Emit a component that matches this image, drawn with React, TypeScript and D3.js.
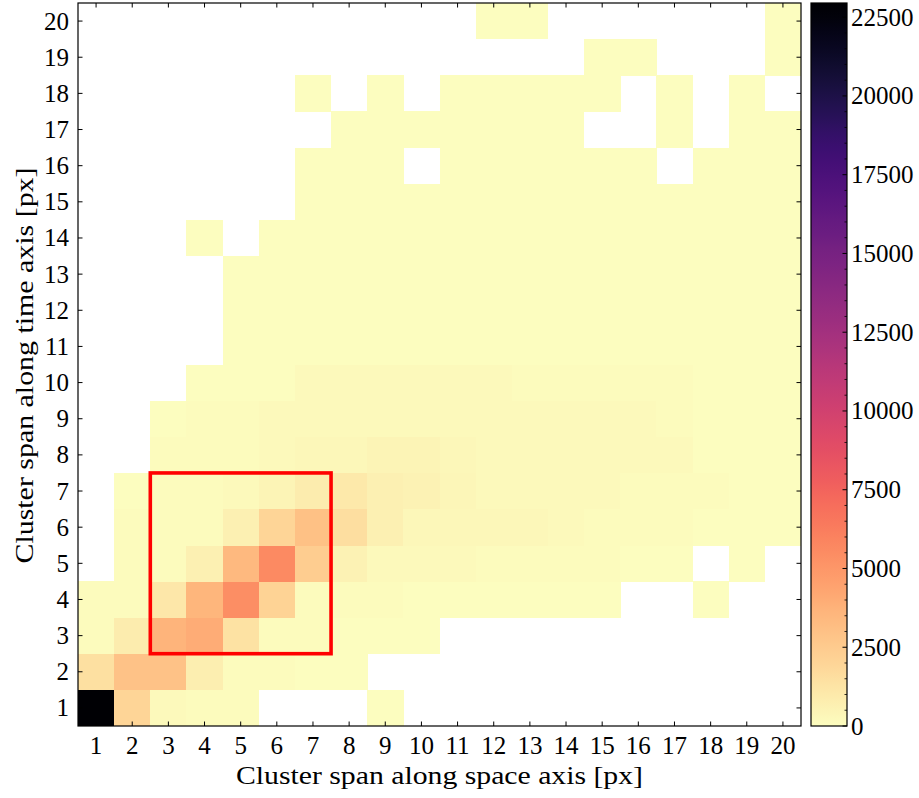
import React from "react";
import * as d3 from "d3";

// Rows: time span 1..20 (bottom to top); columns: space span 1..20
const spaceLabels = d3.range(1, 21);
const timeLabels = d3.range(1, 21);
const colorbarTicks = [0, 2500, 5000, 7500, 10000, 12500, 15000, 17500, 20000, 22500];
const vmax = 22950;

const row1 = [22950, 2000, 200, 100, 100, 0, 0, 0, 30, 0, 0, 0, 0, 0, 0, 0, 0, 0, 0, 0];
const row2 = [1500, 2900, 2900, 800, 120, 100, 80, 60, 0, 0, 0, 0, 0, 0, 0, 0, 0, 0, 0, 0];
const row3 = [120, 850, 3600, 4000, 1350, 120, 100, 80, 60, 40, 0, 0, 0, 0, 0, 0, 0, 0, 0, 0];
const row4 = [100, 120, 1100, 3500, 5400, 2100, 150, 100, 90, 80, 70, 60, 50, 40, 30, 0, 0, 20, 0, 0];
const row5 = [0, 130, 150, 700, 3400, 5600, 2400, 600, 200, 200, 180, 120, 110, 100, 90, 70, 50, 0, 20, 0];
const row6 = [0, 100, 120, 130, 700, 2050, 3000, 1600, 650, 350, 300, 300, 300, 250, 150, 120, 100, 80, 60, 40];
const row7 = [0, 80, 150, 160, 250, 450, 850, 1050, 650, 600, 400, 250, 250, 230, 200, 150, 120, 100, 80, 60];
const row8 = [0, 0, 100, 120, 150, 200, 300, 320, 450, 450, 350, 250, 230, 220, 210, 200, 180, 80, 60, 50];
const row9 = [0, 0, 80, 100, 120, 180, 220, 230, 250, 250, 240, 230, 220, 210, 200, 190, 170, 80, 60, 50];
const row10 = [0, 0, 0, 60, 70, 70, 180, 190, 200, 200, 190, 180, 170, 160, 150, 140, 130, 70, 50, 40];
const row11 = [0, 0, 0, 0, 40, 50, 60, 70, 70, 70, 70, 60, 60, 60, 50, 50, 50, 40, 30, 30];
const row12 = [0, 0, 0, 0, 30, 40, 50, 60, 60, 60, 60, 50, 50, 50, 40, 40, 40, 30, 30, 20];
const row13 = [0, 0, 0, 0, 30, 30, 40, 50, 50, 50, 50, 40, 40, 40, 30, 30, 30, 30, 20, 20];
const row14 = [0, 0, 0, 10, 0, 30, 40, 40, 40, 40, 40, 40, 30, 30, 30, 30, 20, 20, 20, 15];
const row15 = [0, 0, 0, 0, 0, 0, 30, 30, 30, 30, 30, 30, 30, 30, 20, 20, 20, 15, 15, 10];
const row16 = [0, 0, 0, 0, 0, 0, 20, 20, 20, 0, 20, 20, 20, 20, 20, 20, 0, 15, 10, 10];
const row17 = [0, 0, 0, 0, 0, 0, 0, 20, 20, 20, 20, 20, 20, 15, 0, 0, 15, 0, 10, 10];
const row18 = [0, 0, 0, 0, 0, 0, 10, 0, 15, 0, 15, 15, 15, 15, 10, 0, 10, 0, 10, 0];
const row19 = [0, 0, 0, 0, 0, 0, 0, 0, 0, 0, 0, 0, 0, 0, 10, 10, 0, 0, 0, 10];
const row20 = [0, 0, 0, 0, 0, 0, 0, 0, 0, 0, 0, 12, 10, 0, 0, 0, 0, 0, 0, 10];

const counts = [row1, row2, row3, row4, row5, row6, row7, row8, row9, row10,
  row11, row12, row13, row14, row15, row16, row17, row18, row19, row20];

// highlighted region (space 3..7, time 3..7)
const boxSpace = [3, 7];
const boxTime = [3, 7];

const FONT = "'Liberation Serif', 'DejaVu Serif', serif";

export default function App() {
  const left = 78, right = 801, top = 3, bottom = 726;
  const x = d3.scaleLinear().domain([0.5, 20.5]).range([left, right]);
  const y = d3.scaleLinear().domain([0.5, 20.5]).range([bottom, top]);
  const color = (v: number) => d3.interpolateMagma(1 - Math.min(1, v / vmax));

  const cbL = 811, cbR = 847;
  const cy = d3.scaleLinear().domain([0, vmax]).range([bottom, top]);
  const stops = d3.range(0, 1.0001, 0.02);
  const minor = d3.range(0, vmax, 500).filter((v) => v % 2500 !== 0);

  const cells: React.ReactNode[] = [];
  counts.forEach((row, ri) => {
    row.forEach((v, ci) => {
      if (v <= 0) return;
      const sx = spaceLabels[ci];
      const ty = timeLabels[ri];
      const x0 = x(sx - 0.5), x1 = x(sx + 0.5);
      const y0 = y(ty + 0.5), y1 = y(ty - 0.5);
      cells.push(
        <rect key={`${ri}-${ci}`} x={x0} y={y0} width={x1 - x0 + 0.3} height={y1 - y0 + 0.3}
          fill={color(v)} shapeRendering="crispEdges" />
      );
    });
  });

  return (
    <div style={{ position: "absolute", left: 0, top: 0 }}>
      <svg width={919} height={798} style={{ display: "block", background: "#fff" }}>
        <defs>
          <linearGradient id="cbgrad" x1="0" y1="1" x2="0" y2="0">
            {stops.map((t) => (
              <stop key={t} offset={t} stopColor={d3.interpolateMagma(1 - t)} />
            ))}
          </linearGradient>
        </defs>
        {cells}
        {/* red highlight box */}
        <rect x={x(boxSpace[0] - 0.5)} y={y(boxTime[1] + 0.5)}
          width={x(boxSpace[1] + 0.5) - x(boxSpace[0] - 0.5)}
          height={y(boxTime[0] - 0.5) - y(boxTime[1] + 0.5)}
          fill="none" stroke="#ff0000" strokeWidth={3.6} />
        {/* frame */}
        <rect x={left} y={top} width={right - left} height={bottom - top} fill="none" stroke="#000" strokeWidth={1.2} />
        {/* ticks */}
        {spaceLabels.map((v) => (
          <g key={"xt" + v}>
            <line x1={x(v)} x2={x(v)} y1={bottom} y2={bottom - 4.5} stroke="#000" strokeWidth={1} />
            <line x1={x(v)} x2={x(v)} y1={top} y2={top + 4.5} stroke="#000" strokeWidth={1} />
            <text x={x(v)} y={754} textAnchor="middle" fontFamily={FONT} fontSize={25}>{v}</text>
          </g>
        ))}
        {timeLabels.map((v) => (
          <g key={"yt" + v}>
            <line x1={left} x2={left + 4.5} y1={y(v)} y2={y(v)} stroke="#000" strokeWidth={1} />
            <line x1={right} x2={right - 4.5} y1={y(v)} y2={y(v)} stroke="#000" strokeWidth={1} />
            <text x={69} y={y(v)} dy="0.34em" textAnchor="end" fontFamily={FONT} fontSize={25}>{v}</text>
          </g>
        ))}
        <text x={(left + right) / 2} y={784} textAnchor="middle" fontFamily={FONT} fontSize={25}
          textLength={407} lengthAdjust="spacingAndGlyphs">Cluster span along space axis [px]</text>
        <text transform={`translate(33, ${(top + bottom) / 2 + 1}) rotate(-90)`} textAnchor="middle"
          fontFamily={FONT} fontSize={25} textLength={396} lengthAdjust="spacingAndGlyphs">
          Cluster span along time axis [px]
        </text>
        {/* colorbar */}
        <rect x={cbL} y={top} width={cbR - cbL} height={bottom - top} fill="url(#cbgrad)" />
        {minor.map((v) => (
          <line key={"cm" + v} x1={cbR} x2={cbR - 2.5} y1={cy(v)} y2={cy(v)} stroke="#000" strokeWidth={0.8} />
        ))}
        {colorbarTicks.map((v) => (
          <g key={"ct" + v}>
            <line x1={cbR} x2={cbR - 4.5} y1={cy(v)} y2={cy(v)} stroke="#000" strokeWidth={1} />
            <text x={851} y={cy(v)} dy="0.34em" fontFamily={FONT} fontSize={25}>{v}</text>
          </g>
        ))}
        <rect x={cbL} y={top} width={cbR - cbL} height={bottom - top} fill="none" stroke="#000" strokeWidth={1.2} />
      </svg>
    </div>
  );
}
